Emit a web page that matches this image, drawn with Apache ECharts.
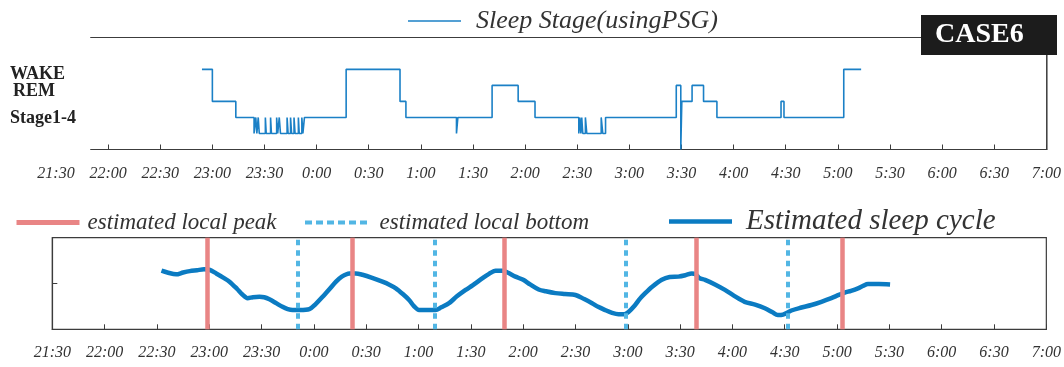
<!DOCTYPE html>
<html><head><meta charset="utf-8">
<script src="https://cdn.jsdelivr.net/npm/echarts@6/dist/echarts.min.js"></script>
<style>html,body{margin:0;padding:0;background:#fff}#c{width:1064px;height:367px}</style>
</head><body><div id="c"></div>
<script>
// ---- data ----
const tickLabels = ['21:30','22:00','22:30','23:00','23:30','0:00','0:30','1:00','1:30','2:00','2:30','3:00','3:30','4:00','4:30','5:00','5:30','6:00','6:30','7:00'];
const stageNames = ['WAKE','REM','Stage1-4'];
// hypnogram change points (time, level: 5=WAKE,4=REM,3..1 = stages, 0 = artefact)
const hypnoTimes = ['22:54','23:00','23:13.5','23:24','23:25','23:25.6','23:26.4','23:27','23:30.5','23:31','23:33.5','23:34','23:37','23:37.6','23:38.5','23:39.2','23:43','23:43.6','23:45','23:45.6','23:47','23:47.6','23:49.5','23:50','23:51.5','23:52.1','23:53',
  '0:17','0:48','0:51.4','1:20.5','1:21.3','1:41','1:56','2:05.7',
  '2:30.9','2:31.5','2:32.1','2:32.6','2:33.2','2:34.7','2:35.5','2:43.8','2:44.7','2:46.3',
  '3:27','3:29.6','3:30.2','3:36.1','3:42.7','3:50.4','4:27.3','4:29','5:03.4','5:13.4'];
const hypnoStages = [5,3,2,1,2,1,2,1,2,1,2,1,2,1,2,1,2,1,2,1,2,1,2,1,2,1,2,
  5,3,2,1,2,4,3,2,
  1,2,1,2,1,2,1,2,1,2,
  4,0,3,4,3,2,3,2,5,5];
// estimated sleep cycle curve
const cycleTimes = ['22:32.6','22:36','22:41','22:45','22:48.8','22:53','22:57','23:00','23:04','23:08','23:11.6','23:16','23:19','23:22','23:25','23:28.8','23:31.5','23:34.5','23:38','23:42','23:45','23:47.8','23:52','23:57.4',
  '0:01','0:05','0:09','0:12.7','0:16','0:20.3','0:24','0:27.9','0:33','0:39.3','0:43','0:47','0:51','0:54.6','0:57.5','1:00.3','1:05','1:09.8','1:13','1:17.5','1:22','1:27','1:31','1:36.5','1:40','1:44.2','1:48','1:51','1:55.6',
  '2:00','2:04','2:08.9','2:13','2:18.5','2:24','2:30','2:35','2:39.5','2:43','2:47','2:51','2:54.7','2:58','3:00.4','3:04','3:07','3:10','3:14','3:19.5','3:24','3:29','3:33','3:36.7','3:39','3:41','3:44.3','3:50','3:55.7',
  '4:01','4:07','4:13','4:18.6','4:23','4:26','4:29','4:33.8','4:39','4:45.3','4:51','4:56.7','5:01','5:04.4','5:08','5:12','5:15','5:17.7','5:24','5:30.4'];
const cycleValues = [1.28,1.24,1.20,1.24,1.27,1.29,1.31,1.30,1.22,1.13,1.04,0.88,0.76,0.68,0.70,0.71,0.70,0.655,0.58,0.49,0.44,0.42,0.42,0.44,
  0.55,0.71,0.88,1.04,1.15,1.22,1.22,1.19,1.13,1.04,0.98,0.895,0.77,0.64,0.50,0.42,0.42,0.42,0.48,0.57,0.72,0.86,0.96,1.11,1.20,1.28,1.28,1.24,1.15,
  1.08,0.98,0.87,0.83,0.79,0.77,0.75,0.66,0.57,0.49,0.42,0.36,0.33,0.33,0.38,0.52,0.67,0.79,0.93,1.08,1.14,1.15,1.18,1.22,1.20,1.12,1.08,0.98,0.86,
  0.73,0.60,0.54,0.46,0.37,0.31,0.32,0.41,0.47,0.53,0.60,0.68,0.75,0.80,0.84,0.895,0.95,0.99,0.99,0.98];
const peakTimes = ['22:59','0:22','1:49','3:39.5','5:03'];
const bottomTimes = ['23:51','1:09.3','2:58.9','4:31.5'];

// ---- helpers ----
function toMin(s){ const p=s.split(':'); const H=+p[0]; let t=H*60+parseFloat(p[1]); if(H<12) t+=1440; return t-(21*60+30); }
const hypno = hypnoTimes.map((t,i)=>[toMin(t), hypnoStages[i]]);
const cycle = cycleTimes.map((t,i)=>[toMin(t), cycleValues[i]]);
const serif = 'Liberation Serif';
const axisColor = '#3c3c3c';
const tickVals = tickLabels.map((_,i)=>i*30);
const fmt = v => tickLabels[Math.round(v/30)] || '';
const labelStyle = {fontFamily:serif, fontStyle:'italic', fontSize:16, color:'#333'};
const lineOnly = () => ({show:true, onZero:false, lineStyle:{color:axisColor, width:1.2}});
const hidden = (g) => ({gridIndex:g, type:'value', min:0, max:1, axisLine:{show:false}, axisTick:{show:false}, axisLabel:{show:false}, splitLine:{show:false}});

const chart = echarts.init(document.getElementById('c'));
chart.setOption({
  animation:false,
  grid:[
    {left:56, right:17, top:37.3, bottom:217.5},
    {left:90.7, right:17, top:37.3, bottom:217.5},
    {left:52.3, right:15, top:237.7, bottom:37.7, show:true, borderColor:axisColor, borderWidth:1.2},
    {left:1046.6, right:17, top:37.3, bottom:217.5, show:true, borderColor:axisColor, borderWidth:1}
  ],
  xAxis:[
    {gridIndex:0, type:'value', min:0, max:570, interval:30, axisLine:{show:false, onZero:false}, splitLine:{show:false},
     axisTick:{inside:true, length:5, customValues:tickVals.slice(1), lineStyle:{color:axisColor}},
     axisLabel:Object.assign({margin:16, formatter:fmt}, labelStyle)},
    {gridIndex:1, type:'value', min:0, max:1, position:'bottom', axisLine:lineOnly(), axisTick:{show:false}, axisLabel:{show:false}, splitLine:{show:false}},
    {gridIndex:1, type:'value', min:0, max:1, position:'top', axisLine:lineOnly(), axisTick:{show:false}, axisLabel:{show:false}, splitLine:{show:false}},
    {gridIndex:2, type:'value', min:0, max:570, interval:30, axisLine:lineOnly(), splitLine:{show:false},
     axisTick:{inside:true, length:5, lineStyle:{color:axisColor}},
     axisLabel:Object.assign({margin:15, formatter:fmt}, labelStyle)},
    hidden(3)
  ],
  yAxis:[
    {gridIndex:0, type:'value', min:0, max:7, axisLine:{show:false, onZero:false}, axisTick:{show:false}, splitLine:{show:false},
     axisLabel:{customValues:[4.15,1.97], showMinLabel:true, showMaxLabel:true,
       formatter:v => v > 3 ? '{a|'+stageNames[0]+'}\n{b|'+stageNames[1]+'}' : '{a|'+stageNames[2]+'}',
       margin:46, align:'left', color:'#222',
       rich:{a:{fontFamily:serif, fontWeight:'bold', fontSize:18, lineHeight:16.4, color:'#222'},
             b:{fontFamily:serif, fontWeight:'bold', fontSize:18, lineHeight:16.4, color:'#222', padding:[0,0,0,3]}}}},
    hidden(1),
    {gridIndex:2, type:'value', min:0, max:2, interval:1, axisLine:lineOnly(), splitLine:{show:false},
     axisTick:{inside:true, length:5, lineStyle:{color:axisColor}}, axisLabel:{show:false}},
    hidden(3)
  ],
  legend:[
    {data:[{name:'Sleep Stage(usingPSG)', icon:'rect'}], left:408, top:8, padding:0, itemWidth:53, itemHeight:1.5, selectedMode:false,
     textStyle:{fontFamily:serif, fontStyle:'italic', fontSize:26, color:'#333', padding:[0,0,0,10]}},
    {data:[{name:'estimated local peak', icon:'rect'}], left:16.5, top:211, padding:0, itemWidth:63, itemHeight:5, selectedMode:false,
     textStyle:{fontFamily:serif, fontStyle:'italic', fontSize:23, color:'#333', padding:[0,0,0,3]}},
    {data:[{name:'estimated local bottom', icon:'path://M0,0h7v4h-7z M11,0h7v4h-7z M22,0h7v4h-7z M33,0h7v4h-7z M44,0h7v4h-7z M55,0h7v4h-7z'}], left:305, top:211, padding:0, itemWidth:63, itemHeight:4, selectedMode:false,
     textStyle:{fontFamily:serif, fontStyle:'italic', fontSize:23, color:'#333', padding:[0,0,0,7]}},
    {data:[{name:'Estimated sleep cycle', icon:'rect'}], left:669, top:207, padding:0, itemWidth:63, itemHeight:4.5, selectedMode:false,
     textStyle:{fontFamily:serif, fontStyle:'italic', fontSize:29, color:'#333', padding:[0,0,0,9]}}
  ],
  graphic:[
    {type:'rect', left:921, top:15, shape:{width:136, height:40}, style:{fill:'#1c1c1c'}, z:100},
    {type:'text', x:935, y:35, z:101, style:{text:'CASE6', fill:'#fff', font:'bold 28px "Liberation Serif"', verticalAlign:'middle', align:'left'}}
  ],
  series:[
    {name:'Sleep Stage(usingPSG)', type:'line', xAxisIndex:0, yAxisIndex:0, step:'end', symbol:'none', data:hypno,
     lineStyle:{color:'#1b80c6', width:1.6}, itemStyle:{color:'#1b80c6'}},
    {name:'Estimated sleep cycle', type:'line', xAxisIndex:3, yAxisIndex:2, smooth:0.3, symbol:'none', data:cycle,
     lineStyle:{color:'#0b7bc2', width:4.5}, itemStyle:{color:'#0b7bc2'}},
    {name:'estimated local peak', type:'line', xAxisIndex:3, yAxisIndex:2, symbol:'none', data:[],
     itemStyle:{color:'#e98585'}, lineStyle:{color:'#e98585', width:4.5},
     markLine:{silent:true, symbol:['none','none'], label:{show:false}, lineStyle:{color:'#e98585', width:4.5, type:'solid'},
       data:peakTimes.map(t=>({xAxis:toMin(t)}))}},
    {name:'estimated local bottom', type:'line', xAxisIndex:3, yAxisIndex:2, symbol:'none', data:[],
     itemStyle:{color:'#52b6e4'}, lineStyle:{color:'#52b6e4', width:4, type:[5,5]},
     markLine:{silent:true, symbol:['none','none'], label:{show:false}, lineStyle:{color:'#52b6e4', width:4, type:[5.5,5]},
       data:bottomTimes.map(t=>({xAxis:toMin(t)}))}}
  ]
});
</script></body></html>
